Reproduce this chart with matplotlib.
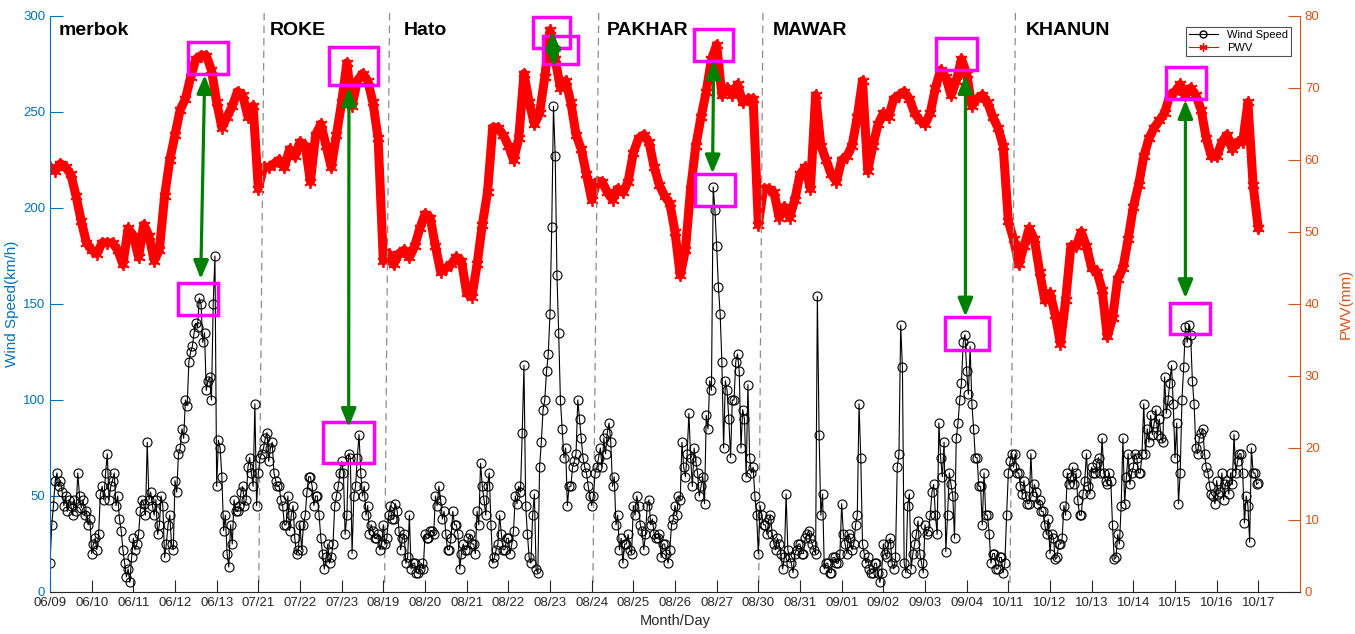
import numpy as np
import matplotlib
matplotlib.use('Agg')
import matplotlib.pyplot as plt
from matplotlib.patches import Rectangle
from matplotlib.lines import Line2D

plt.rcParams['font.family'] = ['Liberation Sans', 'DejaVu Sans']

# ---------------- data ----------------
tick_labels = ['06/09', '06/10', '06/11', '06/12', '06/13', '07/21', '07/22', '07/23',
               '08/19', '08/20', '08/21', '08/22', '08/23', '08/24', '08/25', '08/26',
               '08/27', '08/30', '08/31', '09/01', '09/02', '09/03', '09/04', '10/11',
               '10/12', '10/13', '10/14', '10/15', '10/16', '10/17']

typhoon_names = ['merbok', 'ROKE', 'Hato', 'PAKHAR', 'MAWAR', 'KHANUN']
typhoon_days = [5, 3, 5, 4, 6, 6]

# wind speed (km/h), hourly, per typhoon period
wind_merbok = [15, 35, 45, 58, 62, 55, 58, 52, 45, 50, 42, 48,
               45, 40, 48, 42, 62, 50, 44, 48, 40, 42, 35, 38,
               20, 25, 28, 22, 30, 51, 55, 48, 62, 72, 48, 55,
               58, 62, 45, 50, 38, 32, 22, 15, 8, 12, 5, 18,
               28, 22, 25, 30, 42, 48, 46, 40, 78, 48, 52, 45,
               40, 48, 30, 35, 50, 45, 18, 25, 35, 40, 25, 22,
               58, 52, 72, 75, 85, 80, 100, 97, 120, 125, 128, 135,
               140, 138, 153, 150, 130, 135, 105, 110, 112, 100, 150, 175,
               55, 79, 75, 60, 32, 40, 20, 13, 35, 25, 48, 42,
               42, 45, 52, 55, 45, 48, 65, 70, 62, 55, 98, 45]
wind_roke = [62, 70, 72, 75, 80, 83, 68, 75, 78, 62, 58, 55,
             55, 48, 45, 35, 35, 50, 32, 40, 45, 28, 20, 22,
             35, 22, 35, 40, 52, 60, 60, 55, 45, 50, 50, 40,
             28, 20, 12, 18, 25, 15, 18, 25, 45, 50, 55, 62,
             68, 62, 30, 40, 72, 70, 20, 50, 55, 70, 82, 62,
             50, 55, 40, 45, 30, 35, 32, 28, 28, 30, 22, 25]
wind_hato = [35, 25, 28, 40, 45, 38, 38, 46, 42, 32, 22, 28,
             30, 15, 18, 40, 12, 15, 15, 10, 10, 12, 15, 12,
             30, 28, 28, 32, 32, 30, 50, 45, 55, 48, 38, 42,
             30, 22, 22, 28, 42, 35, 35, 30, 12, 20, 25, 22,
             22, 28, 30, 25, 25, 20, 42, 35, 67, 55, 48, 40,
             55, 62, 35, 15, 18, 22, 25, 40, 30, 22, 22, 28,
             28, 20, 25, 32, 50, 46, 55, 52, 83, 118, 45, 30,
             18, 15, 40, 51, 12, 10, 65, 78, 95, 100, 115, 124,
             145, 190, 253, 227, 165, 135, 100, 85, 70, 75, 45, 55,
             55, 65, 68, 72, 100, 90, 80, 70, 65, 62, 55, 50]
wind_pakhar = [45, 50, 62, 65, 70, 75, 65, 80, 72, 83, 88, 78,
               55, 60, 35, 40, 22, 28, 15, 25, 25, 30, 22, 20,
               45, 40, 50, 45, 35, 32, 22, 30, 45, 48, 35, 38,
               30, 28, 28, 30, 18, 25, 25, 20, 15, 22, 35, 38,
               45, 40, 50, 48, 78, 65, 60, 72, 93, 70, 55, 75,
               68, 62, 50, 55, 60, 46, 92, 85, 110, 105, 211, 199,
               180, 159, 145, 120, 75, 110, 105, 90, 70, 100, 100, 120,
               124, 115, 75, 95, 90, 60, 108, 70, 62, 65, 50, 40]
wind_mawar = [20, 45, 40, 35, 35, 30, 38, 40, 30, 25, 22, 28,
              25, 20, 12, 18, 51, 22, 18, 15, 10, 20, 22, 25,
              25, 20, 20, 28, 30, 32, 28, 25, 22, 20, 154, 82,
              40, 51, 12, 15, 15, 10, 10, 18, 18, 15, 15, 20,
              46, 30, 25, 20, 30, 28, 22, 25, 35, 40, 98, 70,
              25, 20, 15, 18, 12, 10, 10, 15, 15, 10, 5, 10,
              25, 20, 18, 25, 28, 15, 12, 18, 65, 72, 139, 117,
              15, 10, 45, 51, 12, 20, 25, 30, 37, 20, 15, 10,
              35, 30, 32, 40, 52, 56, 40, 30, 88, 70, 60, 78,
              21, 40, 62, 56, 50, 28, 80, 88, 100, 109, 130, 134,
              115, 103, 128, 98, 85, 70, 70, 55, 55, 35, 62, 40,
              40, 30, 15, 20, 20, 12, 12, 18, 18, 10, 15, 40]
wind_khanun = [62, 68, 72, 65, 72, 62, 62, 55, 51, 58, 50, 46,
               46, 72, 50, 56, 52, 46, 48, 42, 42, 35, 30, 38,
               20, 30, 28, 17, 18, 25, 25, 28, 45, 40, 62, 56,
               60, 65, 56, 62, 48, 40, 40, 51, 58, 72, 55, 51,
               65, 62, 62, 67, 70, 62, 80, 62, 58, 56, 62, 58,
               35, 17, 18, 30, 25, 45, 80, 46, 60, 72, 56, 62,
               65, 72, 70, 62, 62, 72, 98, 72, 85, 78, 92, 82,
               88, 95, 82, 90, 80, 78, 112, 93, 100, 109, 118, 98,
               70, 88, 46, 62, 100, 117, 138, 130, 139, 134, 110, 98,
               75, 72, 80, 83, 85, 72, 65, 62, 55, 51, 50, 46,
               58, 51, 52, 62, 48, 56, 58, 51, 62, 56, 82, 62,
               68, 72, 72, 62, 36, 50, 45, 26, 75, 62, 62, 56,
               57]

# PWV (mm), one value every 3 hours, per typhoon period
pwv_merbok = [59, 58.5, 59.5, 59, 58, 55, 51.5, 48.5,
              47.5, 47, 48.5, 48.5, 48.5, 47.5, 45.5, 50.5,
              49.5, 46.5, 51, 49.5, 46, 47.5, 55, 60,
              63.5, 67, 68.5, 71.5, 74, 74.5, 74.5, 72.5,
              68, 64.5, 66, 67.5, 69.5, 69, 66, 67.5]
pwv_roke = [56, 59, 59, 59.5, 60, 59, 61.5, 60.5,
            62.5, 62, 57, 63.5, 65, 62, 59, 63.5,
            68, 73.5, 67.5, 71, 72, 71, 68, 63]
pwv_hato = [46, 47, 45.5, 47, 47.5, 46.5, 48, 50.5,
            52.5, 52, 48, 44.5, 45, 45.5, 46.5, 46,
            41.5, 41, 45.5, 51, 55.5, 64.5, 64.5, 63.5,
            62, 60, 63, 72, 68, 65, 66.5, 71.5,
            78, 74, 70, 71, 68, 63.5, 61.5, 58]
pwv_pakhar = [54.5, 57, 57, 55.5, 54.5, 56, 55.5, 57,
              61, 63, 63.5, 62.5, 59, 56.5, 55, 54,
              50, 44, 47.5, 56, 62, 66, 69.5, 74,
              76, 69, 70, 69, 70.5, 68, 68.5, 68.5]
pwv_mawar = [51, 56, 56, 55.5, 52, 53.5, 52, 54.5,
             58, 59, 56, 69, 62, 60, 58, 57,
             60, 60.5, 62, 66, 71, 58.5, 62, 65,
             66.5, 66, 68.5, 69, 69.5, 68.5, 66.5, 65.5,
             65, 66.5, 70, 72.5, 71.5, 69, 71, 74,
             72, 67.5, 68.5, 69, 68, 66, 64.5, 62]
pwv_khanun = [51.5, 49, 45.5, 48, 50.5, 49, 44.5, 40.5,
              41.5, 38.5, 34.5, 40.5, 48, 48, 50, 48,
              45, 44.5, 42, 35.5, 38, 43.5, 45, 49,
              53.5, 56.5, 60.5, 63, 64.5, 65.5, 66.5, 69,
              69.5, 70.5, 69, 70, 69, 67, 63, 60.5,
              60.5, 62.5, 63.5, 61.5, 62.5, 62.5, 68, 56.5, 50.5]

wind_parts = [wind_merbok, wind_roke, wind_hato, wind_pakhar, wind_mawar, wind_khanun]
pwv_parts = [pwv_merbok, pwv_roke, pwv_hato, pwv_pakhar, pwv_mawar, pwv_khanun]
for i, (wp, pp, nd) in enumerate(zip(wind_parts, pwv_parts, typhoon_days)):
    extra = 1 if i == len(typhoon_days) - 1 else 0
    assert len(wp) == nd * 24 + extra, (i, len(wp))
    assert len(pp) == nd * 8 + extra, (i, len(pp))

wind = np.array(sum(wind_parts, []), float)
pwv = np.array(sum(pwv_parts, []), float)
wind_x = np.arange(len(wind)) / 24.0
pwv_x = np.arange(len(pwv)) / 8.0

# ---------------- layout / annotations (data coords of left axis) ----------------
name_x = [0.21, 5.27, 8.49, 13.35, 17.35, 23.42]
name_y = 292.5
sep_bottom = [5.01, 8.03, 13.03, 17.01, 23.04]
sep_top = [5.14, 8.15, 13.17, 17.11, 23.17]
boxes = [(3.305, 269.8, 0.975, 16.7), (3.07, 144.3, 0.96, 16.6),
         (6.69, 264.1, 1.17, 19.8), (6.545, 67.2, 1.24, 21.3),
         (11.58, 283.2, 0.89, 16.4), (11.82, 275.2, 0.86, 14.5),
         (15.45, 276.6, 0.93, 16.6), (15.47, 201.2, 0.96, 16.5),
         (21.27, 271.7, 0.97, 17.0), (21.49, 126.0, 1.04, 17.2),
         (26.79, 256.8, 0.96, 16.8), (26.87, 134.4, 0.96, 16.1)]
arrows = [((3.713, 269.3), (3.617, 163.0)),
          ((7.175, 262.9), (7.168, 85.9)),
          ((12.05, 292.0), (12.10, 273.4)),
          ((15.93, 277.0), (15.90, 218.0)),
          ((21.97, 269.3), (21.97, 143.4)),
          ((27.25, 256.3), (27.25, 153.0))]

blue = '#0072BD'
orange = '#D95319'
dark = '#262626'

fig = plt.figure(figsize=(13.55, 6.34), dpi=100)
ax1 = fig.add_axes([50 / 1355, 42 / 634, 1250 / 1355, 576 / 634])
ax2 = ax1.twinx()
ax1.set_zorder(ax2.get_zorder() + 1)
ax1.patch.set_visible(False)

# PWV drawn as a dense band of asterisks
ax2.plot(pwv_x, pwv, '-', color='red', lw=6.5, solid_joinstyle='round',
         solid_capstyle='round')
ax2.plot(pwv_x, pwv, color='red', marker=(6, 2, 0), ms=9, mew=1.3, linestyle='none')
ax1.plot(wind_x, wind, '-', color='black', lw=0.8, marker='o', ms=6.5,
         mfc='none', mec='black', mew=0.8)

h_wind = Line2D([], [], color='black', lw=0.8, marker='o', ms=5, mfc='none', mec='black')
h_pwv = Line2D([], [], color='red', lw=0.8, marker=(6, 2, 0), ms=6, mew=1)

ax1.set_xlim(0, 30)
ax1.set_ylim(0, 300)
ax2.set_ylim(0, 80)
ax1.set_yticks(np.arange(0, 301, 50))
ax2.set_yticks(np.arange(0, 81, 10))
ax1.set_xticks(np.arange(len(tick_labels)))
ax1.set_xticklabels(tick_labels)

for a in (ax1, ax2):
    a.spines['top'].set_visible(False)
ax1.spines['right'].set_visible(False)
ax2.spines['left'].set_visible(False)
ax2.spines['bottom'].set_visible(False)
ax1.spines['left'].set_color(blue)
ax2.spines['right'].set_color(orange)
ax1.spines['bottom'].set_color(dark)

ax1.tick_params(axis='y', colors=blue, direction='in', length=9, labelsize=9.5, width=0.8)
ax1.tick_params(axis='x', colors=dark, direction='in', length=9, labelsize=9.5, width=0.8)
ax2.tick_params(axis='y', colors=orange, direction='in', length=9, labelsize=9.5, width=0.8)

ax1.set_ylabel('Wind Speed(km/h)', color=blue, fontsize=11, labelpad=3)
ax2.set_ylabel('PWV(mm)', color=orange, fontsize=11, labelpad=14)
ax1.set_xlabel('Month/Day', color=dark, fontsize=10.5, labelpad=4)

for nx, nm in zip(name_x, typhoon_names):
    ax1.text(nx, name_y, nm, fontsize=14, fontweight='bold', va='center', ha='left',
             color='black', zorder=5)

for b0, b1 in zip(sep_bottom, sep_top):
    ax1.plot([b0, b1], [4.7, 303], ls=(0, (6, 4)), color='#8c8c8c', lw=0.9,
             clip_on=False, zorder=1)

for (x, y, w, h) in boxes:
    ax1.add_patch(Rectangle((x, y), w, h, fill=False, ec='#FF00FF', lw=2.5, zorder=10,
                            clip_on=False))

for (p0, p1) in arrows:
    ax1.annotate('', xy=p1, xytext=p0,
                 arrowprops=dict(arrowstyle='<|-|>,head_length=1.1,head_width=0.45',
                                 color='#008000', lw=2.3, shrinkA=0, shrinkB=0,
                                 mutation_scale=10), zorder=11)

leg = ax1.legend([h_wind, h_pwv], ['Wind Speed', 'PWV'], loc='upper right',
                 bbox_to_anchor=(1291 / 1355, 1 - 27 / 634), bbox_transform=fig.transFigure,
                 borderaxespad=0, fontsize=8, frameon=True, fancybox=False,
                 edgecolor=dark, handlelength=2.6, borderpad=0.3, labelspacing=0.2)
leg.get_frame().set_linewidth(0.8)
leg.set_zorder(20)

fig.savefig('out.png', dpi=100)
